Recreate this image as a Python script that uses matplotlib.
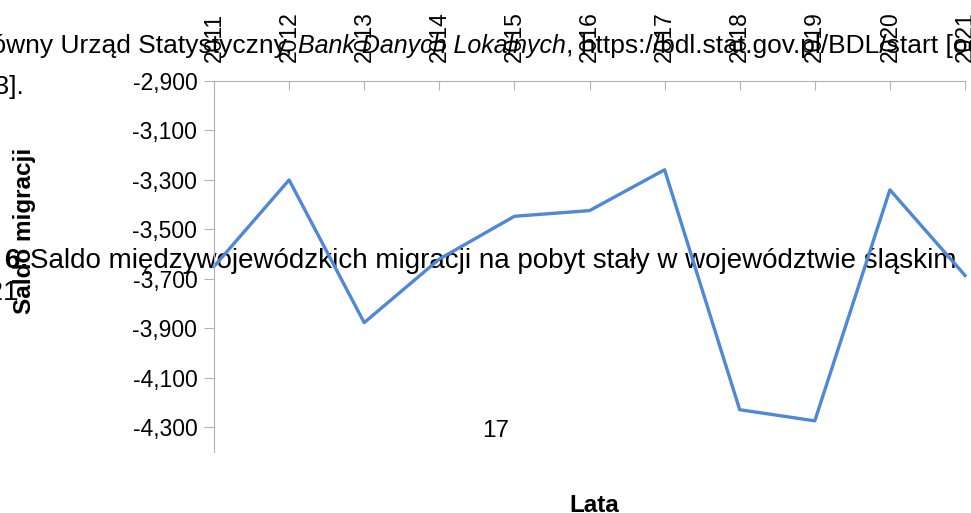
import matplotlib
matplotlib.use('Agg')
import matplotlib.pyplot as plt
from matplotlib.ticker import FuncFormatter

plt.rcParams['font.family'] = ['Liberation Sans', 'DejaVu Sans']

# Saldo migracji na pobyt stały, województwo śląskie
years = ['2011', '2012', '2013', '2014', '2015', '2016',
         '2017', '2018', '2019', '2020', '2021']
saldo = [-3650, -3300, -3877, -3620, -3447, -3424,
         -3259, -4229, -4274, -3340, -3686]
y_ticks = [-4300, -4100, -3900, -3700, -3500, -3300, -3100, -2900]

W, H = 971, 513
fig = plt.figure(figsize=(W / 100, H / 100), dpi=100)
gray = '#b3b3b3'
line_color = '#4f88d6'


def fx(x):
    return x / W


def fy(y):
    return 1 - y / H


# document text lying behind the chart
body = 19
renderer = fig.canvas.get_renderer()
t_it = fig.text(fx(298), fy(53), 'Bank Danych Lokalnych', fontsize=18,
                style='italic', va='baseline', zorder=-1)
fig.text(fx(292), fy(53), 'Główny Urząd Statystyczny,', fontsize=body,
         ha='right', va='baseline', zorder=-1)
bb = t_it.get_window_extent(renderer)
fig.text(bb.x1 / W, fy(53), ', https://bdl.stat.gov.pl/BDL/start [odczyt: 12.05.2023].',
         fontsize=body, va='baseline', zorder=-1)
fig.text(fx(24), fy(94), '[odczyt: 2023].', fontsize=body, ha='right',
         va='baseline', zorder=-1)

fig.text(fx(28), fy(268), 'Wykres 6.', fontsize=20, fontweight='bold',
         ha='right', va='baseline', zorder=-1)
fig.text(fx(30), fy(268),
         'Saldo międzywojewódzkich migracji na pobyt stały w województwie śląskim',
         fontsize=20, va='baseline', zorder=-1)
fig.text(fx(19), fy(300), 'w latach 2011–2021', fontsize=20, ha='right',
         va='baseline', zorder=-1)
fig.text(fx(496), fy(437), '17', fontsize=17.5, ha='center', va='baseline', zorder=-1)

# chart
ax = fig.add_axes([fx(214), fy(452), (965 - 214) / W, (452 - 81) / H])
ax.patch.set_alpha(0)
pos = list(range(len(years)))
ax.plot(pos, saldo, color=line_color, lw=2.4, clip_on=False)
ax.set_xlim(0, len(years) - 1)
ax.set_ylim(-4400, -2900)
ax.set_xticks(pos)
ax.set_xticklabels(years, rotation=90)
ax.set_yticks(y_ticks)
ax.yaxis.set_major_formatter(FuncFormatter(lambda v, p: f'{v:,.0f}'))
ax.xaxis.tick_top()
ax.spines['right'].set_visible(False)
ax.spines['bottom'].set_visible(False)
ax.spines['left'].set_color(gray)
ax.spines['top'].set_color(gray)
ax.tick_params(axis='x', direction='in', length=6.5, color=gray, pad=13.5,
               labelsize=16.5)
ax.tick_params(axis='y', direction='out', length=7, color=gray, pad=5,
               labelsize=16.5)

fig.text(fx(24), fy(231), 'Saldo migracji', fontsize=17.5, fontweight='bold',
         rotation=90, ha='center', va='center')
fig.text(fx(594), fy(512), 'Lata', fontsize=17.5, fontweight='bold',
         ha='center', va='baseline')

fig.savefig('out.png', dpi=100)
